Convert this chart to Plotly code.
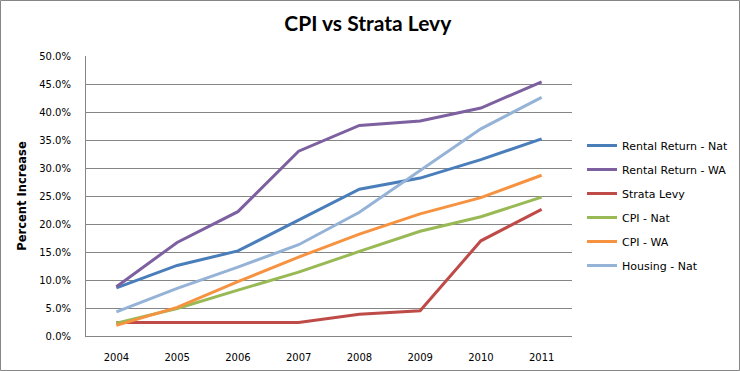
import plotly.graph_objects as go

years = ["2004", "2005", "2006", "2007", "2008", "2009", "2010", "2011"]
rental_nat = [8.6, 12.6, 15.2, 20.7, 26.2, 28.2, 31.5, 35.2]
rental_wa = [8.8, 16.7, 22.2, 33.0, 37.6, 38.4, 40.7, 45.4]
strata = [2.4, 2.4, 2.4, 2.4, 3.9, 4.5, 17.0, 22.6]
cpi_nat = [2.3, 4.9, 8.2, 11.4, 15.1, 18.7, 21.3, 24.8]
cpi_wa = [1.9, 5.1, 9.7, 14.1, 18.2, 21.8, 24.7, 28.7]
housing_nat = [4.3, 8.5, 12.3, 16.3, 22.1, 29.6, 37.0, 42.6]

series = [
    ("Rental Return - Nat", rental_nat, "#4A7EBB"),
    ("Rental Return - WA", rental_wa, "#7D60A0"),
    ("Strata Levy", strata, "#BE4B48"),
    ("CPI - Nat", cpi_nat, "#98B954"),
    ("CPI - WA", cpi_wa, "#F69240"),
    ("Housing - Nat", housing_nat, "#95B3D7"),
]

W, H = 740, 371
ML, MR, MT, MB = 86, 168, 56, 35
PW = W - ML - MR
PH = H - MT - MB

fig = go.Figure()
for i, (name, vals, col) in enumerate(series):
    fig.add_trace(go.Scatter(
        x=years, y=[v / 100 for v in vals], name=name, mode="lines",
        line=dict(color=col, width=3), legendgroup=str(i),
    ))

fig.update_layout(
    width=W, height=H,
    margin=dict(l=ML, r=MR, t=MT, b=MB, autoexpand=False),
    paper_bgcolor="white", plot_bgcolor="white",
    title=dict(text="<b>CPI vs Strata Levy</b>", x=0.497, xanchor="center",
               y=1 - 24 / H, yanchor="middle",
               font=dict(family="Lato", size=21, color="black")),
    font=dict(family="DejaVu Sans", size=10, color="black"),
    legend=dict(x=(582 - ML) / PW, xanchor="left", y=(336 - 131) / PH, yanchor="top",
                font=dict(family="DejaVu Sans", size=11, color="black"),
                tracegroupgap=5, traceorder="grouped", bgcolor="rgba(0,0,0,0)"),
    showlegend=True,
)
fig.update_xaxes(type="category", range=[-0.5, 7.5], showgrid=False,
                 showline=True, linecolor="#868686", linewidth=1,
                 ticks="", ticklabelstandoff=12, tickfont=dict(size=10))
fig.update_yaxes(range=[0, 0.5], dtick=0.05, tickformat=".1%",
                 showgrid=True, gridcolor="#868686", gridwidth=1,
                 showline=True, linecolor="#868686", linewidth=1, zeroline=False,
                 ticks="", ticklabelstandoff=12, tickfont=dict(size=10),
                 title=dict(text="<b>Percent Increase</b>", standoff=10,
                            font=dict(family="DejaVu Sans", size=11.5)))
fig.add_shape(type="rect", xref="paper", yref="paper",
              x0=(0.5 - ML) / PW, x1=(W - 0.5 - ML) / PW,
              y0=(336 - (H - 0.5)) / PH, y1=(336 - 0.5) / PH,
              line=dict(color="#868686", width=1), layer="above")

fig.write_html("out.html", config={"displayModeBar": False},
               post_script="document.body.style.margin='0';document.body.style.overflow='hidden';")
